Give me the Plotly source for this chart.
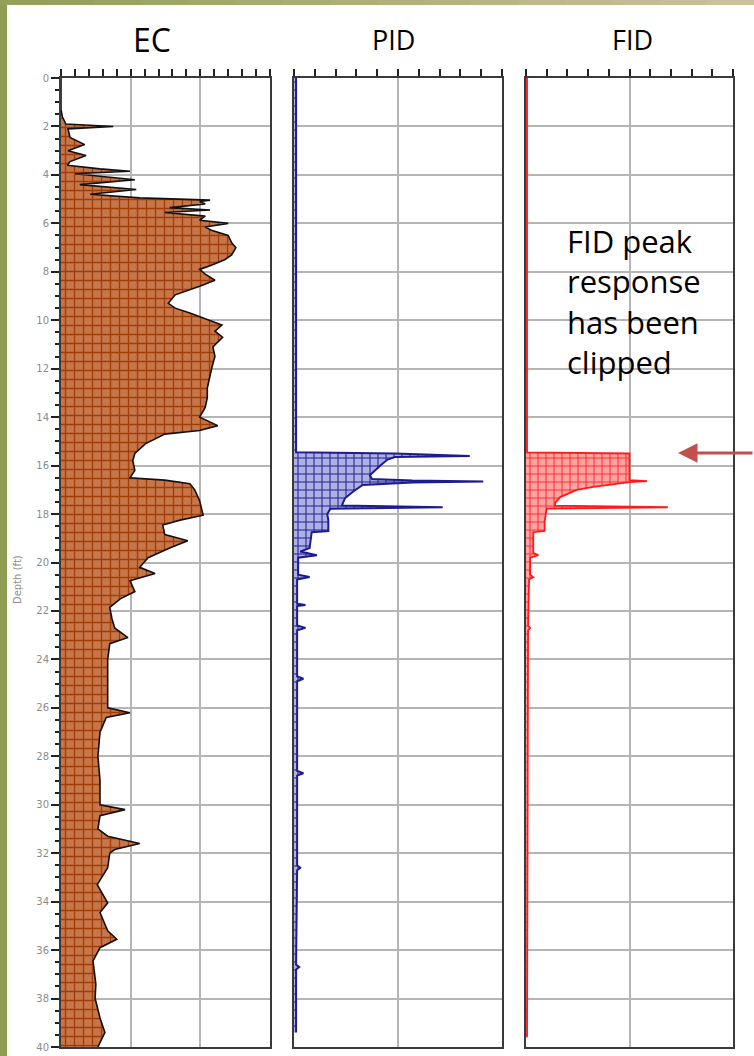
import plotly.graph_objects as go

# ---------------- data ----------------
ec_depth = [0.0, 1.3, 1.6, 1.9, 2.0, 2.1, 2.45, 2.75, 3.0, 3.2, 3.45, 3.6, 3.75, 3.85, 3.95, 4.2, 4.4, 4.6, 4.8, 4.95,
            5.04, 5.1, 5.2, 5.35, 5.45, 5.55, 5.7, 5.87, 6.0, 6.15, 6.3, 6.5, 6.8, 7.0, 7.3, 7.5, 7.75, 7.9, 8.1, 8.35,
            8.6, 8.95, 9.3, 9.5, 9.7, 10.0, 10.2, 10.45, 10.7, 11.1, 11.5, 11.9, 12.3, 12.8, 13.2, 13.6, 14.0, 14.35,
            14.55, 14.7, 15.1, 15.5, 15.8, 16.2, 16.5, 16.6, 16.75, 17.0, 17.45, 18.05, 18.25, 18.45, 18.85, 19.1,
            19.4, 19.8, 20.2, 20.45, 20.75, 21.2, 21.5, 21.85, 22.3, 22.7, 23.1, 23.35, 24.0, 25.0, 26.0, 26.2, 26.4,
            27.0, 28.0, 29.0, 30.0, 30.2, 30.45, 31.0, 31.3, 31.6, 31.85, 32.0, 32.6, 33.3, 34.05, 34.45, 34.9, 35.2,
            35.55, 35.9, 36.45, 37.4, 38.0, 38.8, 39.4, 40.0]
ec_value = [0, 0, 2, 7, 75, 10, 13, 34, 10, 36, 13, 9, 56, 99, 20, 106, 27, 108, 42, 113,
            214, 199, 207, 156, 214, 149, 207, 199, 240, 207, 217, 240, 245, 251, 245, 235, 214, 199, 207, 221,
            199, 164, 154, 164, 185, 214, 231, 221, 232, 218, 221, 217, 214, 210, 210, 207, 199, 225,
            199, 149, 121, 106, 103, 106, 99, 149, 185, 192, 199, 204, 171, 146, 149, 182,
            156, 125, 113, 135, 99, 106, 85, 70, 73, 77, 96, 70, 67, 67, 67, 99, 65,
            56, 53, 56, 56, 92, 56, 53, 67, 113, 77, 70, 67, 52, 67, 56, 63, 67,
            80, 56, 46, 50, 49, 56, 63, 53]

pid_depth = [0.0, 15.45, 15.5, 15.6, 15.65, 15.75, 16.0, 16.4, 16.55, 16.62, 16.66, 16.7, 16.8, 17.1, 17.35,
             17.65, 17.72, 17.78, 18.0, 18.25, 18.7, 18.75, 19.4, 19.55, 19.7, 19.8, 20.5, 20.6, 20.7, 21.7,
             21.75, 21.8, 22.6, 22.7, 22.8, 24.7, 24.8, 24.9, 28.6, 28.7, 28.8, 32.5, 32.6, 32.7, 36.6, 36.7,
             36.8, 39.4]
pid_value = [2, 2, 97, 169, 97, 90, 83, 73, 75, 114, 182, 114, 66, 56, 49,
             46, 143, 35, 32, 33, 33, 17, 15, 6, 22, 4, 4, 15, 3, 3,
             11, 3, 3, 11, 3, 3, 9, 3, 3, 9, 3, 3, 6, 3, 2, 5,
             2, 2]

fid_depth = [0.0, 15.45, 15.5, 16.6, 16.64, 16.68, 16.88, 17.0, 17.3, 17.55, 17.65, 17.72, 17.78, 18.3, 18.7,
             18.75, 19.6, 19.7, 19.8, 20.5, 20.6, 20.7, 22.6, 22.7, 22.8, 39.6]
fid_value = [1, 1, 100, 100, 117, 100, 65, 49, 33, 28, 28, 137, 20, 18, 18,
             7, 7, 12, 4, 4, 7, 3, 2, 4, 2, 1]

panel_titles = ["EC", "PID", "FID"]
note_text = "FID peak<br>response<br>has been<br>clipped"
depth_title = "Depth (ft)"

# ---------------- geometry helpers ----------------
W, H = 754, 1056


def px_x(p):
    return p / W


def px_y(p):
    return 1 - p / H


ydom = [px_y(1047), px_y(78)]
doms = [[px_x(61), px_x(270)], [px_x(294), px_x(502)], [px_x(526), px_x(733)]]

fig = go.Figure()

fig.add_trace(go.Scatter(
    x=ec_value, y=ec_depth, mode="lines", fill="tozerox",
    line=dict(color="#111111", width=1.6),
    fillpattern=dict(shape="+", size=9, solidity=0.28, fgcolor="#a03e0a", bgcolor="#c7764a",
                     fillmode="replace"),
    xaxis="x", yaxis="y", showlegend=False))

fig.add_trace(go.Scatter(
    x=pid_value, y=pid_depth, mode="lines", fill="tozerox",
    line=dict(color="#1c1c8e", width=2),
    fillpattern=dict(shape="+", size=8, solidity=0.25, fgcolor="#23239a", bgcolor="#aeb0e2",
                     fillmode="replace"),
    xaxis="x2", yaxis="y2", showlegend=False))

fig.add_trace(go.Scatter(
    x=fid_value, y=fid_depth, mode="lines", fill="tozerox",
    line=dict(color="#ff1a1a", width=1.8),
    fillpattern=dict(shape="+", size=8, solidity=0.25, fgcolor="#ff3030", bgcolor="#ffa3a3",
                     fillmode="replace"),
    xaxis="x3", yaxis="y3", showlegend=False))

grid_col = "#b5b5b5"
frame_col = "#3a3a3a"


def xax(dom, rng, anchor):
    return dict(domain=dom, range=rng, anchor=anchor, side="top", dtick=100, tick0=0,
                showticklabels=False, ticks="outside", ticklen=7, tickwidth=1.5, tickcolor="#222",
                minor=dict(dtick=20, ticks="outside", ticklen=7, tickwidth=1.5, tickcolor="#222",
                           showgrid=False),
                showgrid=True, gridcolor=grid_col, gridwidth=2, zeroline=False, automargin=False,
                showline=True, linecolor=frame_col, linewidth=2, mirror=True, fixedrange=True)


def yax(anchor, labels):
    d = dict(domain=ydom, range=[40, 0], anchor=anchor, dtick=2, tick0=0,
             showgrid=True, gridcolor=grid_col, gridwidth=2, zeroline=False, automargin=False,
             showline=True, linecolor=frame_col, linewidth=2, mirror=True, fixedrange=True)
    if labels:
        d.update(ticks="outside", ticklen=8, tickwidth=1.5, tickcolor="#222",
                 tickfont=dict(family="DejaVu Sans", size=10, color="#8c8c8c"),
                 minor=dict(dtick=0.5, ticks="outside", ticklen=4, tickwidth=1.5, tickcolor="#222",
                            showgrid=False))
    else:
        d.update(showticklabels=False, ticks="")
    return d


shapes = []
# olive left band
shapes.append(dict(type="rect", xref="paper", yref="paper", x0=0, x1=px_x(7), y0=0, y1=1,
                   fillcolor="#8f9d53", line=dict(width=0), layer="above"))
# top band gradient (olive -> tan)
n = 16
c0 = (0x93, 0xa0, 0x58)
c1 = (0xcb, 0xc1, 0x9b)
for i in range(n):
    t = i / (n - 1)
    col = "rgb(%d,%d,%d)" % tuple(int(c0[k] + (c1[k] - c0[k]) * t) for k in range(3))
    shapes.append(dict(type="rect", xref="paper", yref="paper", x0=i / n, x1=(i + 1) / n + 0.002,
                       y0=px_y(5), y1=1, fillcolor=col, line=dict(width=0), layer="above"))

annotations = []
title_pos = [(152, 32), (393, 27), (632, 27)]
for t, (cx, fs) in zip(panel_titles, title_pos):
    annotations.append(dict(text=t, x=px_x(cx), y=px_y(40), xref="paper", yref="paper",
                            xanchor="center", yanchor="middle", showarrow=False,
                            font=dict(family="Open Sans", size=fs, color="#000")))

annotations.append(dict(text=note_text, x=px_x(565), y=px_y(301), xref="paper", yref="paper",
                        xanchor="left", yanchor="middle", align="left", showarrow=False,
                        font=dict(family="Open Sans", size=31, color="#000")))

annotations.append(dict(text="", x=px_x(678), y=px_y(453), xref="paper", yref="paper",
                        showarrow=True, ax=80, ay=0, arrowhead=2, arrowsize=1.3, arrowwidth=3,
                        arrowcolor="#c0504d"))

annotations.append(dict(text=depth_title, x=px_x(17), y=px_y(580), xref="paper", yref="paper",
                        textangle=-90, showarrow=False, xanchor="center", yanchor="middle",
                        font=dict(family="DejaVu Sans", size=10, color="#8c8c8c")))

fig.update_layout(
    width=W, height=H, margin=dict(l=0, r=0, t=0, b=0, autoexpand=False),
    paper_bgcolor="white", plot_bgcolor="white",
    xaxis=xax(doms[0], [0, 300], "y"),
    xaxis2=xax(doms[1], [0, 200], "y2"),
    xaxis3=xax(doms[2], [0, 200], "y3"),
    yaxis=yax("x", True),
    yaxis2=dict(yax("x2", False), matches="y"),
    yaxis3=dict(yax("x3", False), matches="y"),
    shapes=shapes, annotations=annotations,
    font=dict(family="Open Sans"),
)

fig.write_html("out.html", config=dict(displayModeBar=False),
               post_script="document.body.style.margin='0';")
